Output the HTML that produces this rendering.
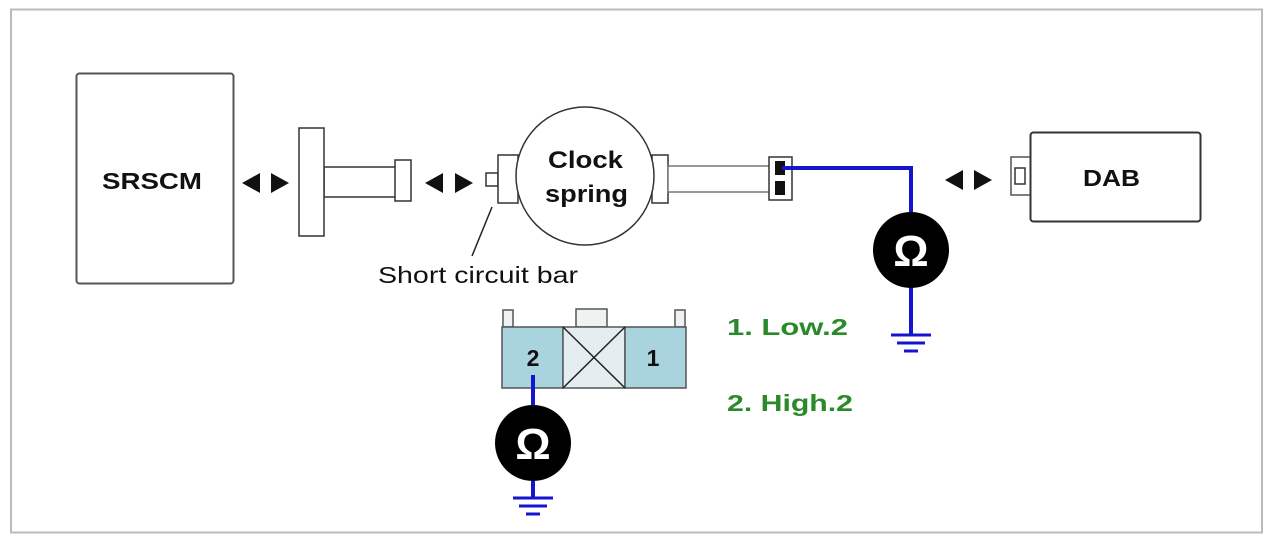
<!DOCTYPE html>
<html><head><meta charset="utf-8"><style>
html,body{margin:0;padding:0;background:#fff;width:1272px;height:540px;overflow:hidden}
svg{display:block}
text{font-family:"Liberation Sans",Arial,sans-serif}
</style></head><body>
<svg width="1272" height="540" viewBox="0 0 1272 540" xmlns="http://www.w3.org/2000/svg">
<rect x="11" y="9.5" width="1251" height="523" fill="#fff" stroke="#bbb" stroke-width="2"/>
<rect x="76.5" y="73.5" width="157" height="210" rx="3" fill="#fff" stroke="#555" stroke-width="2"/>
<text x="102" y="189" font-size="23" font-weight="bold" textLength="100" lengthAdjust="spacingAndGlyphs" fill="#111">SRSCM</text>
<g fill="#111">
<polygon points="242,183 260,173 260,193"/><polygon points="271,173 289,183 271,193"/>
<polygon points="425,183 443,173 443,193"/><polygon points="455,173 473,183 455,193"/>
<polygon points="945,180 963,170 963,190"/><polygon points="974,170 992,180 974,190"/>
</g>
<g fill="#fff" stroke="#333" stroke-width="1.5">
<rect x="324" y="167" width="72" height="30"/>
<rect x="299" y="128" width="25" height="108"/>
<rect x="395" y="160" width="16" height="41"/>
<rect x="486" y="173" width="12" height="13"/>
<rect x="498" y="155" width="20" height="48"/>
<rect x="652" y="155" width="16" height="48"/>
<rect x="668" y="166" width="102" height="26" stroke="#777"/>
<circle cx="585" cy="176" r="69"/>
<rect x="769" y="157" width="23" height="43"/>
</g>
<rect x="775" y="161" width="10" height="14" fill="#111"/>
<rect x="775" y="181" width="10" height="14" fill="#111"/>
<text x="548" y="168" font-size="24" font-weight="bold" textLength="75" lengthAdjust="spacingAndGlyphs" fill="#111">Clock</text>
<text x="545" y="202" font-size="24" font-weight="bold" textLength="83" lengthAdjust="spacingAndGlyphs" fill="#111">spring</text>
<line x1="492" y1="207" x2="472" y2="256" stroke="#222" stroke-width="1.5"/>
<text x="378" y="283" font-size="23" textLength="200" lengthAdjust="spacingAndGlyphs" fill="#111">Short circuit bar</text>
<polyline points="782,168 911,168 911,335" fill="none" stroke="#1515d0" stroke-width="4"/>
<circle cx="911" cy="250" r="38" fill="#000"/>
<text x="911" y="266" font-size="44" font-weight="bold" text-anchor="middle" fill="#fff">Ω</text>
<g stroke="#1515d0" stroke-width="3">
<line x1="891" y1="335" x2="931" y2="335"/><line x1="897" y1="343" x2="925" y2="343"/><line x1="904" y1="351" x2="918" y2="351"/>
</g>
<rect x="1011" y="157" width="20" height="38" fill="#fff" stroke="#555" stroke-width="1.5"/>
<rect x="1015" y="168" width="10" height="16" fill="#fff" stroke="#333" stroke-width="1.5"/>
<rect x="1030.5" y="132.5" width="170" height="89" rx="3" fill="#fff" stroke="#333" stroke-width="2"/>
<text x="1083" y="186" font-size="23" font-weight="bold" textLength="57" lengthAdjust="spacingAndGlyphs" fill="#111">DAB</text>
<g stroke="#555" stroke-width="1.5">
<rect x="503" y="310" width="10" height="17" fill="#eef2f3"/>
<rect x="576" y="309" width="31" height="18" fill="#eef2f3"/>
<rect x="675" y="310" width="10" height="17" fill="#eef2f3"/>
<rect x="502" y="327" width="61" height="61" fill="#a9d3dd"/>
<rect x="563" y="327" width="62" height="61" fill="#e4eef1"/>
<rect x="625" y="327" width="61" height="61" fill="#a9d3dd"/>
</g>
<line x1="563" y1="327" x2="625" y2="388" stroke="#222" stroke-width="1.5"/>
<line x1="625" y1="327" x2="563" y2="388" stroke="#222" stroke-width="1.5"/>
<text x="533" y="366" font-size="23" font-weight="bold" text-anchor="middle" fill="#111">2</text>
<text x="653" y="366" font-size="23" font-weight="bold" text-anchor="middle" fill="#111">1</text>
<line x1="533" y1="375" x2="533" y2="498" stroke="#1515d0" stroke-width="4"/>
<circle cx="533" cy="443" r="38" fill="#000"/>
<text x="533" y="459" font-size="44" font-weight="bold" text-anchor="middle" fill="#fff">Ω</text>
<g stroke="#1515d0" stroke-width="3">
<line x1="513" y1="498" x2="553" y2="498"/><line x1="519" y1="506" x2="547" y2="506"/><line x1="526" y1="514" x2="540" y2="514"/>
</g>
<text x="727" y="335" font-size="23" font-weight="bold" textLength="121" lengthAdjust="spacingAndGlyphs" fill="#2a8a2a">1. Low.2</text>
<text x="727" y="411" font-size="23" font-weight="bold" textLength="126" lengthAdjust="spacingAndGlyphs" fill="#2a8a2a">2. High.2</text>
</svg>
</body></html>
